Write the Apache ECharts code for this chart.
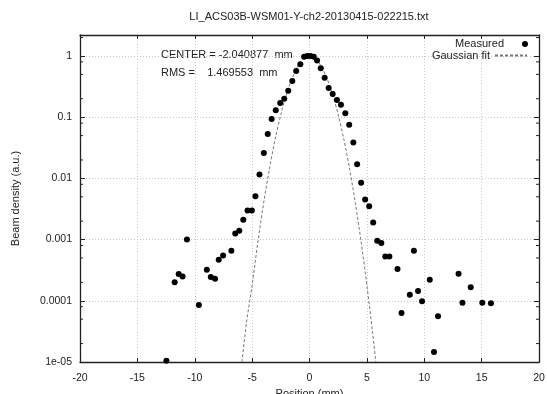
<!DOCTYPE html>
<html>
<head>
<meta charset="utf-8">
<script src="https://cdn.jsdelivr.net/npm/echarts@6/dist/echarts.min.js"></script>
<style>
  html, body { margin: 0; padding: 0; background: #fff; }
  #chart { width: 547px; height: 394px; }
</style>
</head>
<body>
<div id="chart"></div>
<script>
// measured profile (position mm, density a.u.)
var measuredX = [
  -12.47, -11.75, -11.4, -11.06, -10.68, -9.64, -8.95, -8.6, -8.23, -7.91,
  -7.53, -6.81, -6.47, -6.12, -5.77, -5.4, -5.02, -4.71, -4.36, -3.98,
  -3.64, -3.3, -2.94, -2.55, -2.2, -1.85, -1.5, -1.16, -0.8, -0.47,
  -0.2, 0.08, 0.37, 0.66, 0.98, 1.32, 1.67, 2.02, 2.39, 2.74,
  3.12, 3.46, 3.82, 4.15, 4.5, 4.85, 5.2, 5.55, 5.9, 6.26,
  6.6, 6.96, 7.67, 8.02, 8.74, 9.1, 9.46, 9.81, 10.48, 10.85,
  11.2, 12.99, 13.33, 14.05, 15.06, 15.81
];
var measuredY = [
  1.05e-5, 2.0e-4, 2.75e-4, 2.5e-4, 1.0e-3, 8.5e-5, 3.2e-4, 2.45e-4, 2.3e-4, 4.7e-4,
  5.5e-4, 6.6e-4, 1.26e-3, 1.4e-3, 2.1e-3, 3.0e-3, 3.0e-3, 5.1e-3, 0.0116, 0.026,
  0.053, 0.093, 0.13, 0.17, 0.20, 0.27, 0.39, 0.57, 0.73, 0.97,
  1.0, 1.0, 0.97, 0.84, 0.63, 0.44, 0.30, 0.24, 0.19, 0.16,
  0.116, 0.075, 0.0385, 0.017, 0.0085, 0.0045, 0.0035, 0.0019, 9.6e-4, 8.8e-4,
  5.3e-4, 5.3e-4, 3.3e-4, 6.3e-5, 1.26e-4, 6.6e-4, 1.45e-4, 9.8e-5, 2.2e-4, 1.45e-5,
  5.6e-5, 2.77e-4, 9.3e-5, 1.66e-4, 9.3e-5, 9.1e-5
];

// dashed gaussian fit
var fitX = [-5.88, -5.5, -5, -4.5, -4, -3.5, -3, -2.5, -2, -1.5, -1, -0.5, 0,
            0.5, 1, 1.5, 2, 2.5, 3, 3.5, 4, 4.5, 5, 5.5, 5.78];
var fitY = [1e-5, 4.3e-5, 1.8e-4, 9.1e-4, 3.9e-3, 0.014, 0.043, 0.11, 0.24, 0.44, 0.69, 0.93, 1.0,
            0.90, 0.69, 0.44, 0.24, 0.11, 0.043, 0.014, 3.9e-3, 9.1e-4, 1.8e-4, 3.0e-5, 1e-5];

var xMin = -20, xMax = 20, xStep = 5;
var yMin = 1e-5, yMax = 2.2;
var yTickValues = [1e-5, 1e-4, 1e-3, 1e-2, 0.1, 1];
var yTickLabels = ['1e-05', '0.0001', '0.001', '0.01', '0.1', '1'];
// small ticks inside the frame at 2, 5 and 8 of each decade
var yMinorTicks = [2e-5, 5e-5, 8e-5, 2e-4, 5e-4, 8e-4, 2e-3, 5e-3, 8e-3,
                   0.02, 0.05, 0.08, 0.2, 0.5, 0.8, 2];

var font = "'Liberation Sans', Arial, Helvetica, sans-serif";
var ink = '#222';

function pairs(xs, ys) {
  return xs.map(function (x, i) { return [x, ys[i]]; });
}

function yLabel(v) {
  for (var i = 0; i < yTickValues.length; i++) {
    if (Math.abs(Math.log10(v) - Math.log10(yTickValues[i])) < 1e-6) return yTickLabels[i];
  }
  return '';
}

var chart = echarts.init(document.getElementById('chart'), null, { renderer: 'canvas' });

var frameLine = { show: true, onZero: false, lineStyle: { color: ink, width: 1.3 } };

var option = {
  animation: false,
  backgroundColor: '#fff',
  textStyle: { fontFamily: font },
  title: {
    text: 'LI_ACS03B-WSM01-Y-ch2-20130415-022215.txt',
    left: 309,
    textAlign: 'center',
    top: 11,
    padding: 0,
    textStyle: { fontSize: 11, fontWeight: 'normal', color: ink, fontFamily: font }
  },
  legend: [
    {
      data: ['Measured'],
      right: 19, top: 38.5, padding: 0,
      align: 'right', itemWidth: 32, itemHeight: 6,
      selectedMode: false,
      textStyle: { fontSize: 11, color: ink, fontFamily: font }
    },
    {
      data: ['Gaussian fit'],
      right: 19, top: 50, padding: 0,
      align: 'right', itemWidth: 32, itemHeight: 6,
      selectedMode: false,
      itemStyle: { opacity: 0 },
      textStyle: { fontSize: 11, color: ink, fontFamily: font }
    }
  ],
  graphic: [
    {
      type: 'text', left: 161, top: 49,
      style: { text: 'CENTER = -2.040877  mm', fill: ink, font: '11px ' + font }
    },
    {
      type: 'text', left: 161, top: 67.5,
      style: { text: 'RMS =    1.469553  mm', fill: ink, font: '11px ' + font }
    }
  ],
  grid: { left: 80, right: 8, top: 35, bottom: 32, outerBoundsMode: 'none', containLabel: false },
  xAxis: [
    {
      type: 'value', min: xMin, max: xMax, interval: xStep,
      name: 'Position (mm)', nameLocation: 'middle', nameGap: 24,
      nameTextStyle: { fontSize: 11, color: ink, fontFamily: font },
      axisLine: frameLine,
      axisTick: { inside: true, length: 4, lineStyle: { color: ink } },
      axisLabel: { fontSize: 10.5, color: ink, margin: 11, fontFamily: font },
      splitLine: { show: true, lineStyle: { color: '#c8c8c8', type: [1, 2], width: 1 } }
    },
    {
      type: 'value', min: xMin, max: xMax, interval: xStep, position: 'top',
      axisLine: frameLine,
      axisTick: { inside: true, length: 4, lineStyle: { color: ink } },
      axisLabel: { show: false },
      splitLine: { show: false }
    }
  ],
  yAxis: [
    {
      type: 'log', logBase: 10, min: yMin, max: yMax,
      name: 'Beam density (a.u.)', nameLocation: 'middle', nameGap: 59,
      nameTextStyle: { fontSize: 11, color: ink, fontFamily: font },
      axisLine: frameLine,
      axisTick: { inside: true, length: 5, lineStyle: { color: ink } },
      axisLabel: { fontSize: 10.5, color: ink, margin: 8, fontFamily: font, formatter: yLabel },
      splitLine: { show: true, lineStyle: { color: '#c8c8c8', type: [1, 2], width: 1 } }
    },
    {
      type: 'log', logBase: 10, min: yMin, max: yMax, position: 'right',
      axisLine: frameLine,
      axisTick: { inside: true, length: 5, lineStyle: { color: ink } },
      axisLabel: { show: false },
      splitLine: { show: false }
    }
  ],
  series: [
    {
      name: 'Measured',
      type: 'scatter',
      data: pairs(measuredX, measuredY),
      symbol: 'circle',
      symbolSize: 6,
      itemStyle: { color: '#000', opacity: 1 },
      z: 4
    },
    {
      name: 'Gaussian fit',
      type: 'line',
      data: pairs(fitX, fitY),
      smooth: 0.3,
      symbol: 'none',
      lineStyle: { color: '#777', width: 1, type: [3, 2] },
      z: 3
    },
    {
      name: 'minor ticks',
      type: 'custom',
      silent: true,
      data: yMinorTicks.map(function (v) { return [xMin, v]; }),
      renderItem: function (params, api) {
        var left = api.coord([xMin, api.value(1)]);
        var right = api.coord([xMax, api.value(1)]);
        var st = { stroke: ink, lineWidth: 1 };
        return {
          type: 'group',
          children: [
            { type: 'line', shape: { x1: left[0], y1: left[1], x2: left[0] + 3, y2: left[1] }, style: st },
            { type: 'line', shape: { x1: right[0] - 3, y1: right[1], x2: right[0], y2: right[1] }, style: st }
          ]
        };
      },
      z: 5
    }
  ]
};

chart.setOption(option);
</script>
</body>
</html>
